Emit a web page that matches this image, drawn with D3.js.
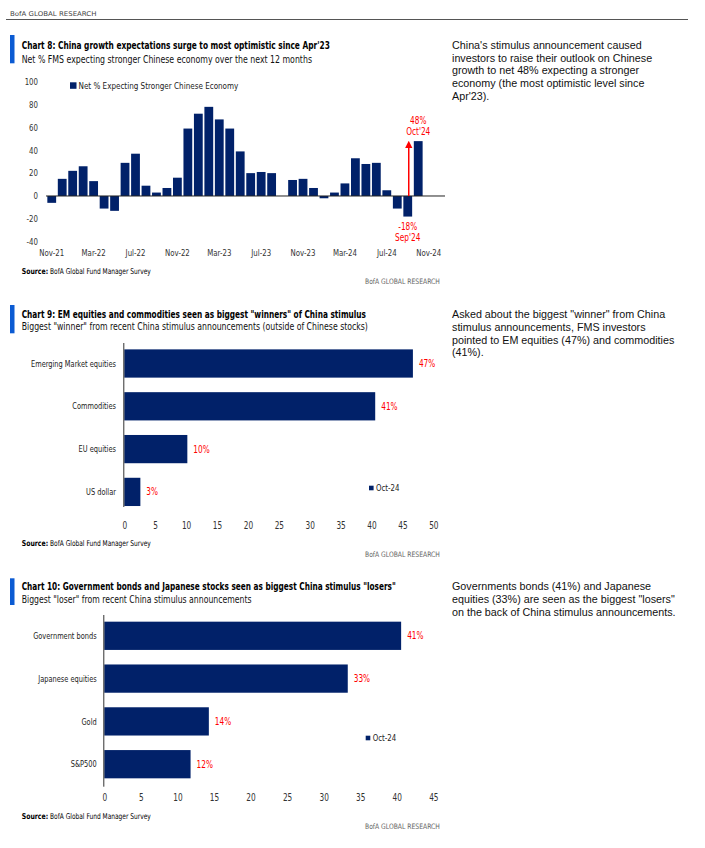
<!DOCTYPE html>
<html>
<head>
<meta charset="utf-8">
<script src="https://cdn.jsdelivr.net/npm/d3@7"></script>
<style>
  body { margin: 0; background: #fff; }
</style>
</head>
<body>
<div id="page"></div>
<script>
// ---- chart 8 data: net % expecting a stronger Chinese economy
var months = ["Nov-21", "Dec-21",
              "Jan-22", "Feb-22", "Mar-22", "Apr-22", "May-22", "Jun-22",
              "Jul-22", "Aug-22", "Sep-22", "Oct-22", "Nov-22", "Dec-22",
              "Jan-23", "Feb-23", "Mar-23", "Apr-23", "May-23", "Jun-23",
              "Jul-23", "Aug-23", "Sep-23", "Oct-23", "Nov-23", "Dec-23",
              "Jan-24", "Feb-24", "Mar-24", "Apr-24", "May-24", "Jun-24",
              "Jul-24", "Aug-24", "Sep-24", "Oct-24", "Nov-24", "Dec-24"];
//              Nov21 Dec21
var net_pct = [-6, 15,
               // Jan22 .. Dec22
               22, 26, 13, -11, -13, 29, 37, 9, 3, 7, 16, 59,
               // Jan23 .. Dec23 (no Sep23 reading)
               72, 78, 67, 59, 39, 20, 21, 20, null, 14, 15, 7,
               // Jan24 .. Oct24
               -2, 3, 11, 33, 28, 29, 5, -11, -18, 48];
var month_ticks = ["Nov-21", "Mar-22", "Jul-22", "Nov-22", "Mar-23",
                   "Jul-23", "Nov-23", "Mar-24", "Jul-24", "Nov-24"];
var net_ticks = [100, 80, 60, 40, 20, 0, -20, -40];

// ---- chart 9 data: biggest "winner"
var winners = ["Emerging Market equities", "Commodities", "EU equities", "US dollar"];
var winners_pct = [46.7, 40.6, 10.2, 2.6];
var winners_ticks = [0, 5, 10, 15, 20, 25, 30, 35, 40, 45, 50];

// ---- chart 10 data: biggest "loser"
var losers = ["Government bonds", "Japanese equities", "Gold", "S&P500"];
var losers_pct = [40.6, 33.3, 14.3, 11.8];
var losers_ticks = [0, 5, 10, 15, 20, 25, 30, 35, 40, 45];

var navy = "#012169", accent = "#0b5bd3", red = "#ff0000";
var narrow = "'Liberation Sans Narrow', 'DejaVu Sans Condensed', 'Arial Narrow', sans-serif";
var body_font = "'Liberation Sans', Arial, sans-serif";

var svg = d3.select("#page")
    .append("svg")
    .attr("width", 705)
    .attr("height", 848);

svg.append("rect").attr("width", 705).attr("height", 848).attr("fill", "#fff");

// squeeze a text horizontally to a width measured on the picture
function fit(sel, w) {
    var w0 = sel.node().getComputedTextLength();
    if (w0 > 0) {
	var x = +sel.attr("x"), y = +sel.attr("y");
	sel.attr("x", 0).attr("y", 0)
	    .attr("transform", "translate(" + x + "," + y + ") scale(" + (w / w0) + ",1)");
    }
    return sel;
}

// the chart font is a narrow one: find how much to squeeze the fallback
var probe = svg.append("text")
    .attr("font-family", narrow).attr("font-size", 9)
    .text("Emerging Market equities");
var kx = Math.min(1, 85 / (probe.node().getComputedTextLength() || 85));
probe.remove();

function squeeze(sel) {
    sel.each(function() {
	var w = this.getComputedTextLength();
	if (w > 0 && kx < 0.99) {
	    d3.select(this)
		.attr("textLength", w * kx)
		.attr("lengthAdjust", "spacingAndGlyphs");
	}
    });
    return sel;
}

// page header
fit(svg.append("text")
    .attr("x", 10).attr("y", 13.3).attr("dy", "0.35em")
    .attr("font-family", "'DejaVu Sans', sans-serif")
    .attr("font-size", 6.5)
    .attr("fill", "#444")
    .text("BofA GLOBAL RESEARCH"), 86.7);

svg.append("line")
    .attr("x1", 6).attr("x2", 688)
    .attr("y1", 19.5).attr("y2", 19.5)
    .attr("stroke", "#555").attr("stroke-width", 1);

function header(top, bottom, ty, tw, title, sy, sw, sub) {
    svg.append("rect")
	.attr("x", 10).attr("y", top)
	.attr("width", 4.5).attr("height", bottom - top)
	.attr("fill", accent);
    fit(svg.append("text")
	.attr("x", 21.7).attr("y", ty).attr("dy", "0.35em")
	.attr("font-family", narrow).attr("font-weight", "bold")
	.attr("font-size", 11).attr("fill", "#000")
	.text(title), tw);
    fit(svg.append("text")
	.attr("x", 21.7).attr("y", sy).attr("dy", "0.35em")
	.attr("font-family", narrow)
	.attr("font-size", 10.5).attr("fill", "#111")
	.text(sub), sw);
}

function footer(sy, by) {
    fit(svg.append("text")
	.attr("x", 21.7).attr("y", sy).attr("dy", "0.35em")
	.attr("font-family", narrow).attr("font-size", 8)
	.attr("font-weight", "bold").attr("fill", "#000")
	.text("Source:"), 26.5);
    fit(svg.append("text")
	.attr("x", 50).attr("y", sy).attr("dy", "0.35em")
	.attr("font-family", narrow).attr("font-size", 8)
	.attr("fill", "#000")
	.text("BofA Global Fund Manager Survey"), 101);
    fit(svg.append("text")
	.attr("x", 365).attr("y", by).attr("dy", "0.35em")
	.attr("font-family", narrow).attr("font-size", 7.5)
	.attr("fill", "#666")
	.text("BofA GLOBAL RESEARCH"), 75);
}

// commentary on the right, one font size for all three blocks
var para_size = null;
function para(lines, y0) {
    var t = svg.append("g")
	.selectAll("text")
	.data(lines)
	.join("text")
	.attr("x", 452).attr("y", function(d, i) { return y0 + i * 12.8; })
	.attr("dy", "0.35em")
	.attr("font-family", body_font).attr("font-size", 10)
	.attr("fill", "#111")
	.text(function(d) { return d; });
    if (para_size === null) {
	var m = t.node().getComputedTextLength();
	para_size = Math.min(11.2, m > 0 ? 10 * 190 / m : 11);
    }
    t.attr("font-size", para_size);
}

// ================= Chart 8 =================
header(35, 63.3, 44.8, 308.3,
       "Chart 8: China growth expectations surge to most optimistic since Apr'23",
       59.8, 291,
       "Net % FMS expecting stronger Chinese economy over the next 12 months");

var x8 = d3.scaleBand()
    .domain(months)
    .range([46.5, 444.4])
    .paddingInner(0.16)
    .paddingOuter(0.08);

var y8 = d3.scaleLinear()
    .domain([-40, 100])
    .range([241.7, 81.7]);

var obs8 = net_pct.map(function(v, i) { return { m: months[i], v: v }; })
    .filter(function(d) { return d.v !== null; });

svg.append("g")
    .selectAll("rect")
    .data(obs8)
    .join("rect")
    .attr("x", function(d) { return x8(d.m); })
    .attr("y", function(d) { return y8(Math.max(d.v, 0)); })
    .attr("width", x8.bandwidth())
    .attr("height", function(d) { return Math.abs(y8(d.v) - y8(0)); })
    .attr("fill", navy);

svg.append("line")
    .attr("x1", 46).attr("x2", 445)
    .attr("y1", y8(0)).attr("y2", y8(0))
    .attr("stroke", "#222").attr("stroke-width", 1);

// y tick labels, right aligned at x = 38
squeeze(svg.append("g")
    .selectAll("text")
    .data(net_ticks)
    .join("text")
    .attr("x", 38)
    .attr("y", function(d) { return y8(d); })
    .attr("dy", "0.35em")
    .attr("text-anchor", "end")
    .attr("font-family", narrow).attr("font-size", 9.5)
    .attr("fill", "#333")
    .text(function(d) { return d; }));

var ax8 = svg.append("g")
    .attr("transform", "translate(0,246)")
    .call(d3.axisBottom(x8).tickValues(month_ticks).tickSize(0).tickPadding(3));
ax8.select(".domain").remove();
ax8.attr("font-family", narrow).attr("font-size", 9.5);
squeeze(ax8.selectAll("text").attr("fill", "#333"));

// legend
svg.append("rect")
    .attr("x", 70).attr("y", 82.3).attr("width", 6.5).attr("height", 6.5)
    .attr("fill", navy);
fit(svg.append("text")
    .attr("x", 78.5).attr("y", 85.6).attr("dy", "0.35em")
    .attr("font-family", narrow).attr("font-size", 9.5).attr("fill", "#222")
    .text("Net % Expecting Stronger Chinese Economy"), 160);

// annotations: Sep'24 low and Oct'24 jump
var cx = function(m) { return x8(m) + x8.bandwidth() / 2; };
var note = svg.append("g")
    .attr("font-family", narrow).attr("font-size", 10)
    .attr("fill", red).attr("text-anchor", "middle");
note.append("text").attr("x", cx("Oct-24")).attr("y", y8(48) - 21).attr("dy", "0.35em").text("48%");
note.append("text").attr("x", cx("Oct-24")).attr("y", y8(48) - 10).attr("dy", "0.35em").text("Oct'24");
note.append("text").attr("x", cx("Sep-24")).attr("y", y8(-18) + 9.5).attr("dy", "0.35em").text("-18%");
note.append("text").attr("x", cx("Sep-24")).attr("y", y8(-18) + 20.5).attr("dy", "0.35em").text("Sep'24");
squeeze(note.selectAll("text"));

svg.append("defs").append("marker")
    .attr("id", "arrow")
    .attr("viewBox", "0 0 10 10")
    .attr("refX", 5).attr("refY", 5)
    .attr("markerWidth", 5).attr("markerHeight", 5)
    .attr("orient", "auto")
    .append("path")
    .attr("d", "M0,0 L10,5 L0,10 z")
    .attr("fill", red);

svg.append("line")
    .attr("x1", cx("Sep-24") + 1).attr("x2", cx("Sep-24") + 1)
    .attr("y1", y8(0)).attr("y2", y8(45))
    .attr("stroke", red).attr("stroke-width", 1.5)
    .attr("marker-end", "url(#arrow)");

footer(271, 281.7);

para(["China's stimulus announcement caused",
      "investors to raise their outlook on Chinese",
      "growth to net 48% expecting a stronger",
      "economy (the most optimistic level since",
      "Apr'23)."], 45);

// ================= Horizontal bar charts =================
function hbar(c) {
    var x = d3.scaleLinear().domain([0, c.xmax]).range([c.x0, c.x1]);
    var y = d3.scaleBand().domain(c.cats).range(c.yr)
	.paddingInner(0.34).paddingOuter(0.17);
    var rows = c.cats.map(function(d, i) { return { cat: d, v: c.vals[i] }; });

    svg.append("g")
	.selectAll("rect")
	.data(rows)
	.join("rect")
	.attr("x", x(0))
	.attr("y", function(d) { return y(d.cat); })
	.attr("width", function(d) { return x(d.v) - x(0); })
	.attr("height", y.bandwidth())
	.attr("fill", navy);

    svg.append("line")
	.attr("x1", x(0) - 0.5).attr("x2", x(0) - 0.5)
	.attr("y1", c.line[0]).attr("y2", c.line[1])
	.attr("stroke", "#333").attr("stroke-width", 1);

    // category names
    squeeze(svg.append("g")
	.selectAll("text")
	.data(rows)
	.join("text")
	.attr("x", c.labx)
	.attr("y", function(d) { return y(d.cat) + y.bandwidth() / 2; })
	.attr("dy", "0.35em")
	.attr("text-anchor", "end")
	.attr("font-family", narrow).attr("font-size", 9)
	.attr("fill", "#222")
	.text(function(d) { return d.cat; }));

    // value labels
    squeeze(svg.append("g")
	.selectAll("text")
	.data(rows)
	.join("text")
	.attr("x", function(d) { return x(d.v) + 6; })
	.attr("y", function(d) { return y(d.cat) + y.bandwidth() / 2; })
	.attr("dy", "0.35em")
	.attr("font-family", narrow).attr("font-size", 10)
	.attr("fill", red)
	.text(function(d) { return d3.format(".0f")(d.v) + "%"; }));

    var ax = svg.append("g")
	.attr("transform", "translate(0," + (c.ticky - 6.5) + ")")
	.call(d3.axisBottom(x).tickValues(c.ticks).tickSize(0).tickPadding(3));
    ax.select(".domain").remove();
    ax.attr("font-family", narrow).attr("font-size", 10);
    squeeze(ax.selectAll("text").attr("fill", "#333"));

    // legend
    svg.append("rect")
	.attr("x", c.leg[0]).attr("y", c.leg[1] - 2.3)
	.attr("width", 4.6).attr("height", 4.6)
	.attr("fill", navy);
    squeeze(svg.append("text")
	.attr("x", c.leg[0] + 7).attr("y", c.leg[1]).attr("dy", "0.35em")
	.attr("font-family", narrow).attr("font-size", 9.5).attr("fill", "#222")
	.text("Oct-24"));
}

// ---- Chart 9
header(305, 333.3, 314.2, 345,
       "Chart 9: EM equities and commodities seen as biggest \"winners\" of China stimulus",
       326.3, 346.6,
       "Biggest \"winner\" from recent China stimulus announcements (outside of Chinese stocks)");

hbar({ cats: winners, vals: winners_pct, ticks: winners_ticks, xmax: 50,
       x0: 124.3, x1: 433.3, yr: [342.1, 513.3], line: [343, 507],
       labx: 116, ticky: 525, leg: [369, 488] });

footer(543.3, 554);

para(["Asked about the biggest \"winner\" from China",
      "stimulus announcements, FMS investors",
      "pointed to EM equities (47%) and commodities",
      "(41%)."], 314.3);

// ---- Chart 10
header(578.3, 605, 585.8, 374.3,
       "Chart 10: Government bonds and Japanese stocks seen as biggest China stimulus \"losers\"",
       599.2, 230,
       "Biggest \"loser\" from recent China stimulus announcements");

hbar({ cats: losers, vals: losers_pct, ticks: losers_ticks, xmax: 45,
       x0: 104.3, x1: 433.3, yr: [614.4, 785.6], line: [615, 786.7],
       labx: 96.7, ticky: 797.3, leg: [365.7, 738] });

footer(816, 826.7);

para(["Governments bonds (41%) and Japanese",
      "equities (33%) are seen as the biggest \"losers\"",
      "on the back of China stimulus announcements."], 586.7);
</script>
</body>
</html>
